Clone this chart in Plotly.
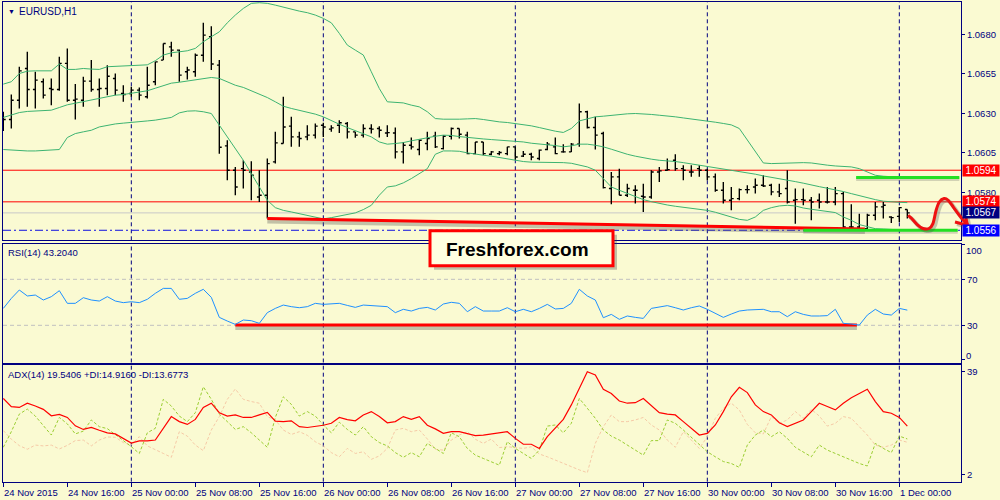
import plotly.graph_objects as go

W, H = 1000, 500
BG = "#FAFAD2"
NAVY = "#000080"
FONT = "Liberation Sans, Arial, sans-serif"

# ---------------- data ----------------
x_label_idx = [0, 8, 16, 24, 32, 40, 48, 56, 64, 72, 80, 88, 96, 104, 112]
x_label_text = ["24 Nov 2015", "24 Nov 16:00", "25 Nov 00:00", "25 Nov 08:00", "25 Nov 16:00",
                "26 Nov 00:00", "26 Nov 08:00", "26 Nov 16:00", "27 Nov 00:00", "27 Nov 08:00",
                "27 Nov 16:00", "30 Nov 00:00", "30 Nov 08:00", "30 Nov 16:00", "1 Dec 00:00"]
grid_idx = [16, 40, 64, 88, 112]

bar_open = [1.06278, 1.06261, 1.06383, 1.06584, 1.06451, 1.06500, 1.06457, 1.06451, 1.06616, 1.06383,
            1.06383, 1.06504, 1.06451, 1.06457, 1.06521, 1.06426, 1.06426, 1.06447, 1.06405, 1.06500,
            1.06637, 1.06721, 1.06700, 1.06563, 1.06563, 1.06668, 1.06785, 1.06605, 1.06094, 1.05940,
            1.05950, 1.05929, 1.05771, 1.05782, 1.05993, 1.06109, 1.06219, 1.06151, 1.06151, 1.06162,
            1.06225, 1.06200, 1.06225, 1.06236, 1.06183, 1.06162, 1.06204, 1.06204, 1.06176, 1.06176,
            1.06056, 1.06098, 1.06071, 1.06109, 1.06155, 1.06077, 1.06155, 1.06204, 1.06162, 1.06045,
            1.06119, 1.06041, 1.06045, 1.06045, 1.06088, 1.06029, 1.06041, 1.06014, 1.06071, 1.06088,
            1.06056, 1.06056, 1.06105, 1.06310, 1.06210, 1.06172, 1.05824, 1.05898, 1.05782, 1.05813,
            1.05775, 1.05771, 1.05929, 1.05940, 1.06003, 1.05950, 1.05929, 1.05950, 1.05940, 1.05898,
            1.05813, 1.05750, 1.05760, 1.05817, 1.05834, 1.05845, 1.05845, 1.05803, 1.05824, 1.05750,
            1.05754, 1.05750, 1.05750, 1.05739, 1.05739, 1.05792, 1.05581, 1.05581, 1.05570, 1.05655,
            1.05708, 1.05644, 1.05648, 1.05691]
bar_high = [1.06310, 1.06419, 1.06595, 1.06690, 1.06563, 1.06521, 1.06521, 1.06658, 1.06711, 1.06485,
            1.06531, 1.06637, 1.06521, 1.06605, 1.06552, 1.06478, 1.06468, 1.06464, 1.06595, 1.06626,
            1.06742, 1.06753, 1.06704, 1.06595, 1.06679, 1.06873, 1.06852, 1.06637, 1.06130, 1.05961,
            1.06003, 1.05997, 1.05940, 1.06014, 1.06183, 1.06405, 1.06278, 1.06183, 1.06225, 1.06236,
            1.06240, 1.06225, 1.06257, 1.06246, 1.06183, 1.06231, 1.06231, 1.06219, 1.06225, 1.06210,
            1.06119, 1.06147, 1.06134, 1.06183, 1.06183, 1.06162, 1.06210, 1.06204, 1.06183, 1.06119,
            1.06119, 1.06062, 1.06062, 1.06088, 1.06088, 1.06062, 1.06050, 1.06071, 1.06119, 1.06147,
            1.06105, 1.06113, 1.06362, 1.06316, 1.06278, 1.06183, 1.05929, 1.05950, 1.05855, 1.05845,
            1.05855, 1.05940, 1.05961, 1.06014, 1.06041, 1.05972, 1.05972, 1.05972, 1.05950, 1.05919,
            1.05866, 1.05834, 1.05824, 1.05845, 1.05887, 1.05908, 1.05855, 1.05855, 1.05940, 1.05824,
            1.05824, 1.05771, 1.05792, 1.05834, 1.05834, 1.05803, 1.05724, 1.05665, 1.05665, 1.05739,
            1.05739, 1.05648, 1.05708, 1.05691]
bar_low = [1.06189, 1.06204, 1.06331, 1.06341, 1.06331, 1.06394, 1.06352, 1.06443, 1.06373, 1.06261,
           1.06341, 1.06436, 1.06341, 1.06415, 1.06415, 1.06373, 1.06405, 1.06383, 1.06394, 1.06478,
           1.06637, 1.06658, 1.06500, 1.06514, 1.06531, 1.06626, 1.06574, 1.06045, 1.05876, 1.05782,
           1.05824, 1.05750, 1.05739, 1.05634, 1.05982, 1.06109, 1.06088, 1.06088, 1.06130, 1.06141,
           1.06151, 1.06183, 1.06176, 1.06141, 1.06145, 1.06147, 1.06172, 1.06147, 1.06151, 1.06014,
           1.05982, 1.06071, 1.06035, 1.06067, 1.06081, 1.06071, 1.06134, 1.06141, 1.06041, 1.06041,
           1.06035, 1.06035, 1.06035, 1.06035, 1.06007, 1.06024, 1.06003, 1.06003, 1.06067, 1.06041,
           1.06050, 1.06056, 1.06088, 1.06204, 1.06071, 1.05824, 1.05724, 1.05782, 1.05771, 1.05729,
           1.05676, 1.05760, 1.05866, 1.05936, 1.05936, 1.05876, 1.05898, 1.05898, 1.05876, 1.05803,
           1.05729, 1.05686, 1.05750, 1.05792, 1.05792, 1.05834, 1.05782, 1.05771, 1.05729, 1.05602,
           1.05718, 1.05623, 1.05697, 1.05729, 1.05718, 1.05560, 1.05564, 1.05564, 1.05564, 1.05623,
           1.05634, 1.05606, 1.05613, 1.05634]
bar_close = [1.06261, 1.06383, 1.06569, 1.06451, 1.06510, 1.06415, 1.06451, 1.06616, 1.06383, 1.06390,
             1.06504, 1.06451, 1.06457, 1.06535, 1.06447, 1.06419, 1.06447, 1.06415, 1.06478, 1.06626,
             1.06742, 1.06700, 1.06542, 1.06574, 1.06668, 1.06795, 1.06612, 1.06085, 1.05940, 1.05834,
             1.05940, 1.05908, 1.05782, 1.05982, 1.06113, 1.06214, 1.06151, 1.06141, 1.06162, 1.06219,
             1.06214, 1.06208, 1.06240, 1.06183, 1.06162, 1.06204, 1.06200, 1.06193, 1.06178, 1.06056,
             1.06098, 1.06088, 1.06130, 1.06141, 1.06088, 1.06155, 1.06204, 1.06168, 1.06045, 1.06119,
             1.06045, 1.06056, 1.06052, 1.06088, 1.06024, 1.06041, 1.06024, 1.06067, 1.06105, 1.06045,
             1.06056, 1.06105, 1.06310, 1.06210, 1.06162, 1.05830, 1.05898, 1.05782, 1.05824, 1.05813,
             1.05771, 1.05929, 1.05936, 1.05944, 1.05950, 1.05940, 1.05929, 1.05940, 1.05898, 1.05813,
             1.05750, 1.05760, 1.05817, 1.05817, 1.05845, 1.05840, 1.05803, 1.05792, 1.05739, 1.05754,
             1.05750, 1.05739, 1.05739, 1.05739, 1.05792, 1.05581, 1.05581, 1.05570, 1.05655, 1.05708,
             1.05718, 1.05640, 1.05703, 1.05670]

bb_upper = [1.06485, 1.06500, 1.06552, 1.06567, 1.06569, 1.06569, 1.06569, 1.06612, 1.06578, 1.06578,
            1.06584, 1.06580, 1.06578, 1.06595, 1.06597, 1.06597, 1.06599, 1.06601, 1.06607, 1.06633,
            1.06669, 1.06683, 1.06690, 1.06696, 1.06711, 1.06753, 1.06785, 1.06816, 1.06873, 1.06922,
            1.06964, 1.06996, 1.07000, 1.06996, 1.06985, 1.06971, 1.06958, 1.06947, 1.06937, 1.06922,
            1.06901, 1.06873, 1.06806, 1.06732, 1.06700, 1.06669, 1.06563, 1.06457, 1.06373, 1.06371,
            1.06366, 1.06352, 1.06341, 1.06310, 1.06267, 1.06263, 1.06261, 1.06263, 1.06265, 1.06267,
            1.06261, 1.06252, 1.06246, 1.06242, 1.06236, 1.06229, 1.06221, 1.06210, 1.06198, 1.06187,
            1.06179, 1.06204, 1.06252, 1.06267, 1.06278, 1.06282, 1.06288, 1.06293, 1.06297, 1.06299,
            1.06297, 1.06293, 1.06288, 1.06284, 1.06278, 1.06271, 1.06265, 1.06259, 1.06252, 1.06244,
            1.06236, 1.06227, 1.06204, 1.06130, 1.06056, 1.05986, 1.05982, 1.05984, 1.05986, 1.05988,
            1.05988, 1.05986, 1.05978, 1.05972, 1.05967, 1.05965, 1.05961, 1.05950, 1.05929, 1.05908,
            1.05902, 1.05898, 1.05896, 1.05893]
bb_mid = [1.06274, 1.06288, 1.06305, 1.06312, 1.06314, 1.06318, 1.06320, 1.06337, 1.06354, 1.06364,
          1.06375, 1.06383, 1.06396, 1.06405, 1.06415, 1.06419, 1.06426, 1.06432, 1.06443, 1.06459,
          1.06476, 1.06491, 1.06497, 1.06504, 1.06510, 1.06519, 1.06527, 1.06521, 1.06500, 1.06478,
          1.06464, 1.06443, 1.06419, 1.06400, 1.06373, 1.06345, 1.06331, 1.06320, 1.06305, 1.06295,
          1.06278, 1.06252, 1.06231, 1.06210, 1.06189, 1.06172, 1.06151, 1.06119, 1.06105, 1.06109,
          1.06115, 1.06126, 1.06136, 1.06147, 1.06155, 1.06162, 1.06160, 1.06153, 1.06147, 1.06143,
          1.06138, 1.06134, 1.06130, 1.06128, 1.06126, 1.06119, 1.06111, 1.06107, 1.06102, 1.06096,
          1.06088, 1.06094, 1.06105, 1.06105, 1.06098, 1.06088, 1.06073, 1.06056, 1.06041, 1.06029,
          1.06018, 1.06010, 1.06003, 1.06001, 1.05995, 1.05988, 1.05980, 1.05974, 1.05967, 1.05959,
          1.05950, 1.05940, 1.05931, 1.05923, 1.05915, 1.05904, 1.05896, 1.05887, 1.05879, 1.05868,
          1.05858, 1.05849, 1.05836, 1.05826, 1.05817, 1.05805, 1.05792, 1.05779, 1.05765, 1.05754,
          1.05744, 1.05739, 1.05737, 1.05735]
bb_lower = [1.06071, 1.06067, 1.06062, 1.06062, 1.06062, 1.06065, 1.06067, 1.06071, 1.06147, 1.06172,
            1.06183, 1.06193, 1.06214, 1.06225, 1.06233, 1.06238, 1.06244, 1.06248, 1.06252, 1.06257,
            1.06265, 1.06274, 1.06303, 1.06314, 1.06316, 1.06310, 1.06299, 1.06225, 1.06147, 1.06077,
            1.06003, 1.05919, 1.05834, 1.05750, 1.05703, 1.05686, 1.05676, 1.05665, 1.05653, 1.05640,
            1.05632, 1.05640, 1.05651, 1.05661, 1.05670, 1.05691, 1.05718, 1.05782, 1.05834, 1.05841,
            1.05860, 1.05887, 1.05919, 1.05950, 1.06041, 1.06062, 1.06062, 1.06060, 1.06050, 1.06041,
            1.06035, 1.06029, 1.06020, 1.06012, 1.06003, 1.05995, 1.05991, 1.05991, 1.05988, 1.05988,
            1.05988, 1.05984, 1.05972, 1.05961, 1.05940, 1.05887, 1.05834, 1.05813, 1.05792, 1.05771,
            1.05754, 1.05741, 1.05729, 1.05720, 1.05712, 1.05705, 1.05699, 1.05693, 1.05686, 1.05674,
            1.05659, 1.05644, 1.05629, 1.05623, 1.05644, 1.05686, 1.05703, 1.05714, 1.05718, 1.05714,
            1.05701, 1.05693, 1.05686, 1.05678, 1.05672, 1.05644, 1.05623, 1.05596, 1.05581, 1.05570,
            1.05568, 1.05566, 1.05564, 1.05560]

rsi = [44.7, 53.4, 60.7, 55.5, 56.3, 52.0, 54.9, 60.1, 49.1, 49.1,
       54.0, 52.0, 51.1, 54.9, 51.1, 49.7, 50.5, 49.7, 52.6, 57.8,
       62.1, 62.1, 52.6, 53.4, 57.8, 61.3, 54.3, 36.9, 33.7, 30.8,
       34.6, 34.0, 31.7, 41.0, 44.7, 47.6, 46.2, 45.3, 46.2, 49.1,
       48.2, 48.5, 49.1, 47.3, 45.6, 47.6, 47.1, 46.8, 46.2, 41.0,
       43.9, 42.4, 44.7, 45.6, 43.3, 48.5, 50.0, 49.1, 41.8, 46.2,
       42.4, 42.4, 42.4, 45.3, 41.8, 43.9, 41.8, 44.7, 48.2, 44.2,
       44.7, 49.1, 61.3, 55.5, 52.0, 36.6, 39.5, 35.2, 38.1, 36.9,
       36.0, 44.7, 46.2, 47.1, 45.3, 43.3, 45.3, 46.8, 43.9, 40.4,
       36.9, 39.8, 42.4, 43.3, 43.9, 43.9, 41.8, 41.8, 37.5, 41.8,
       39.5, 38.1, 38.1, 38.4, 43.9, 31.7, 31.1, 30.2, 38.9, 43.9,
       39.8, 38.9, 44.7, 43.2]

adx = [29.4, 26.5, 26.2, 27.7, 26.7, 25.5, 23.2, 23.7, 22.6, 19.6,
       18.3, 19.0, 18.0, 17.1, 16.7, 15.1, 13.4, 14.2, 14.2, 14.5,
       18.7, 22.9, 21.1, 20.1, 21.9, 26.2, 27.7, 24.3, 23.1, 23.5,
       22.6, 22.6, 23.5, 24.4, 21.3, 21.1, 21.4, 19.3, 19.0, 19.4,
       19.8, 20.5, 22.6, 21.8, 21.4, 23.5, 24.7, 22.9, 20.7, 21.1,
       22.9, 21.9, 22.9, 19.8, 18.5, 16.9, 17.5, 17.5, 16.9, 16.1,
       16.3, 16.7, 16.9, 17.5, 15.1, 13.0, 13.0, 11.5, 15.7, 18.9,
       21.9, 27.1, 33.0, 39.0, 37.8, 32.7, 31.2, 28.5, 27.7, 27.9,
       29.4, 26.7, 24.3, 23.8, 23.5, 21.1, 18.7, 16.3, 16.9, 19.9,
       24.7, 30.0, 33.4, 31.5, 27.1, 24.7, 23.5, 20.7, 19.3, 20.5,
       21.7, 24.7, 27.7, 26.5, 25.3, 27.7, 29.7, 31.2, 32.7, 28.3,
       24.7, 24.1, 22.6, 19.5]
plus_di = [11.9, 17.5, 23.8, 25.6, 23.1, 19.9, 16.3, 22.6, 20.3, 16.7,
           17.7, 21.7, 19.3, 18.6, 16.3, 14.3, 12.1, 9.7, 17.1, 18.7,
           29.1, 26.7, 23.1, 21.1, 24.3, 33.6, 29.1, 23.8, 21.1, 18.3,
           19.3, 17.1, 14.5, 11.9, 22.6, 30.0, 27.3, 23.1, 24.7, 23.1,
           19.9, 17.1, 20.9, 18.3, 16.3, 19.3, 15.7, 13.6, 12.4, 10.0,
           8.3, 10.0, 8.5, 13.3, 11.5, 9.7, 17.1, 15.7, 11.5, 9.1,
           7.9, 6.6, 5.5, 13.9, 11.5, 9.7, 7.9, 10.9, 19.5, 19.9,
           17.1, 20.5, 29.4, 25.9, 22.3, 18.1, 15.9, 14.5, 12.7, 10.9,
           9.1, 14.3, 14.3, 21.7, 20.5, 18.1, 15.5, 13.1, 10.3, 8.5,
           6.8, 6.1, 4.7, 12.7, 16.3, 18.1, 15.7, 17.5, 15.1, 11.9,
           10.3, 8.5, 12.7, 10.9, 9.7, 8.5, 7.3, 6.1, 5.2, 13.3,
           11.5, 10.0, 15.9, 14.9]
minus_di = [17.9, 14.8, 12.5, 11.2, 12.7, 12.4, 12.7, 11.3, 12.6, 14.3,
            14.5, 12.4, 14.5, 15.6, 15.5, 13.6, 12.7, 15.7, 12.4, 10.9,
            9.7, 8.3, 17.5, 15.9, 12.7, 10.7, 18.1, 22.9, 29.1, 32.8,
            29.1, 28.3, 27.7, 22.9, 21.7, 18.1, 16.5, 17.5, 16.2, 13.9,
            12.4, 10.0, 8.5, 11.5, 9.7, 10.3, 7.6, 8.8, 11.5, 18.1,
            18.7, 17.5, 18.1, 14.9, 11.2, 10.9, 14.5, 16.3, 17.5, 14.8,
            13.3, 14.9, 11.8, 12.1, 11.9, 11.5, 12.1, 9.5, 8.5, 7.3,
            6.1, 4.9, 3.8, 2.8, 13.3, 19.3, 23.5, 21.1, 21.1, 21.7,
            22.6, 19.9, 18.1, 14.5, 11.9, 17.5, 14.5, 11.5, 15.7, 22.3,
            25.9, 27.7, 25.3, 20.1, 17.1, 16.7, 22.9, 20.5, 21.7, 24.7,
            22.3, 25.5, 23.1, 19.5, 20.5, 22.9, 22.3, 19.3, 16.3, 12.7,
            11.9, 12.7, 14.5, 13.7]

price_ticks = [1.0680, 1.0655, 1.0630, 1.0605, 1.0580]
red_levels = [1.0594, 1.0574]
bid_price = 1.0567
low_level = 1.0556
rsi_levels = [70, 30]
rsi_ticks = [100, 70, 30, 0]
adx_ticks = [39, 2]

support_x = [33, 107.7]
support_y = [1.05634, 1.05568]
rsi_support_x = [29, 106.7]
rsi_support_y = [30.3, 30.3]
green_top_x = [106.6, 119.5]
green_top_y = [1.05894, 1.05894]
green_bot_x = [100.0, 119.3]
green_bot_y = [1.0556, 1.0556]
forecast_x = [113.1, 113.55, 114.3, 114.96, 115.7, 116.2, 116.6, 117.0, 117.6, 118.1, 118.75, 119.5, 120.2, 120.6]
forecast_y = [1.05655, 1.05634, 1.05592, 1.05571, 1.05571, 1.05602, 1.05687, 1.05739, 1.05761, 1.05750,
              1.05707, 1.05655, 1.05612, 1.05591]
arrow1_x = [118.96, 120.5]
arrow1_y = [1.05612, 1.05592]
arrow2_x = [120.3, 120.5]
arrow2_y = [1.05648, 1.05592]

bars = list(range(len(bar_open)))

# ---------------- geometry ----------------
X_PX = (3, 961)
MAIN_PX = (2, 240.3)
RSI_PX = (244, 362.5)
ADX_PX = (365, 481.7)
X_RANGE = [-0.04, 119.71]
MAIN_RANGE = [1.054965, 1.070047]
RSI_RANGE = [-2.35, 100.7]
ADX_RANGE = [-0.43, 41.4]


def xdom():
    return [X_PX[0] / W, X_PX[1] / W]


def ydom(p):
    return [1 - p[1] / H, 1 - p[0] / H]


def px_x(v):
    return X_PX[0] + (v - X_RANGE[0]) / (X_RANGE[1] - X_RANGE[0]) * (X_PX[1] - X_PX[0])


def px_y(v):
    return MAIN_PX[1] - (v - MAIN_RANGE[0]) / (MAIN_RANGE[1] - MAIN_RANGE[0]) * (MAIN_PX[1] - MAIN_PX[0])


def pap(x, y):
    return x / W, 1 - y / H


def smooth_path(xs, ys, dx=0.0, dy=0.0):
    pts = [(px_x(a) + dx, px_y(b) + dy) for a, b in zip(xs, ys)]
    s = "M %.5f,%.5f" % pap(*pts[0])
    for k in range(len(pts) - 1):
        p0 = pts[k - 1] if k > 0 else pts[k]
        p1 = pts[k]
        p2 = pts[k + 1]
        p3 = pts[k + 2] if k + 2 < len(pts) else pts[k + 1]
        c1 = (p1[0] + (p2[0] - p0[0]) / 6, p1[1] + (p2[1] - p0[1]) / 6)
        c2 = (p2[0] - (p3[0] - p1[0]) / 6, p2[1] - (p3[1] - p1[1]) / 6)
        s += " C %.5f,%.5f %.5f,%.5f %.5f,%.5f" % (pap(*c1) + pap(*c2) + pap(*p2))
    return s


def line_path(xs, ys, dx=0.0, dy=0.0):
    pts = [pap(px_x(a) + dx, px_y(b) + dy) for a, b in zip(xs, ys)]
    return "M " + " L ".join("%.5f,%.5f" % p for p in pts)


main_shadow = 2.5 * (MAIN_RANGE[1] - MAIN_RANGE[0]) / (MAIN_PX[1] - MAIN_PX[0])
rsi_shadow = 2.5 * (RSI_RANGE[1] - RSI_RANGE[0]) / (RSI_PX[1] - RSI_PX[0])

fig = go.Figure()

# Bollinger bands
for band in (bb_upper, bb_mid, bb_lower):
    fig.add_trace(go.Scatter(x=bars, y=band, mode="lines", line=dict(color="#3CB371", width=1),
                             hoverinfo="skip", showlegend=False, xaxis="x", yaxis="y"))

# OHLC bars
fig.add_trace(go.Ohlc(x=bars, open=bar_open, high=bar_high, low=bar_low, close=bar_close,
                      increasing=dict(line=dict(color="black", width=1.4)),
                      decreasing=dict(line=dict(color="black", width=1.4)),
                      tickwidth=0.3, hoverinfo="skip", showlegend=False, xaxis="x", yaxis="y"))

# support trend line with shadow
fig.add_trace(go.Scatter(x=support_x, y=[v - main_shadow for v in support_y], mode="lines",
                         line=dict(color="rgba(90,90,90,0.35)", width=5), hoverinfo="skip",
                         showlegend=False, xaxis="x", yaxis="y"))
fig.add_trace(go.Scatter(x=support_x, y=support_y, mode="lines", line=dict(color="#FF0000", width=3),
                         hoverinfo="skip", showlegend=False, xaxis="x", yaxis="y"))
# green lines
for gx, gy in ((green_top_x, green_top_y), (green_bot_x, green_bot_y)):
    fig.add_trace(go.Scatter(x=gx, y=[v - main_shadow * 0.6 for v in gy], mode="lines",
                             line=dict(color="rgba(90,90,90,0.25)", width=4), hoverinfo="skip",
                             showlegend=False, xaxis="x", yaxis="y"))
    fig.add_trace(go.Scatter(x=gx, y=gy, mode="lines", line=dict(color="#22E022", width=3),
                             hoverinfo="skip", showlegend=False, xaxis="x", yaxis="y"))

# RSI
fig.add_trace(go.Scatter(x=rsi_support_x, y=[v - rsi_shadow for v in rsi_support_y], mode="lines",
                         line=dict(color="rgba(90,90,90,0.35)", width=5), hoverinfo="skip",
                         showlegend=False, xaxis="x2", yaxis="y2"))
fig.add_trace(go.Scatter(x=rsi_support_x, y=rsi_support_y, mode="lines",
                         line=dict(color="#FF0000", width=3), hoverinfo="skip",
                         showlegend=False, xaxis="x2", yaxis="y2"))
fig.add_trace(go.Scatter(x=bars, y=rsi, mode="lines", line=dict(color="#1E90FF", width=1),
                         hoverinfo="skip", showlegend=False, xaxis="x2", yaxis="y2"))

# ADX
fig.add_trace(go.Scatter(x=bars, y=minus_di, mode="lines",
                         line=dict(color="#F5C9A6", width=1, dash="3px,2px"),
                         hoverinfo="skip", showlegend=False, xaxis="x3", yaxis="y3"))
fig.add_trace(go.Scatter(x=bars, y=plus_di, mode="lines",
                         line=dict(color="#9ACD32", width=1, dash="3px,2px"),
                         hoverinfo="skip", showlegend=False, xaxis="x3", yaxis="y3"))
fig.add_trace(go.Scatter(x=bars, y=adx, mode="lines", line=dict(color="#FF0000", width=1.2),
                         hoverinfo="skip", showlegend=False, xaxis="x3", yaxis="y3"))

shapes = []
# vertical dashed separators
for ya in ("y", "y2", "y3"):
    xa = {"y": "x", "y2": "x2", "y3": "x3"}[ya]
    for g in grid_idx:
        shapes.append(dict(type="line", xref=xa, yref=ya + " domain", x0=g, x1=g, y0=0, y1=1,
                           line=dict(color=NAVY, width=1, dash="4px,3px"), layer="below"))
# main panel levels
for lv in red_levels:
    shapes.append(dict(type="line", xref="x domain", yref="y", x0=0, x1=1, y0=lv, y1=lv,
                       line=dict(color="#FF0000", width=1), layer="below"))
shapes.append(dict(type="line", xref="x domain", yref="y", x0=0, x1=1, y0=bid_price, y1=bid_price,
                   line=dict(color="#C8C8C8", width=1), layer="below"))
shapes.append(dict(type="line", xref="x domain", yref="y", x0=0, x1=1, y0=low_level, y1=low_level,
                   line=dict(color="#1010E0", width=1, dash="8px,3px,2px,3px"), layer="below"))
# RSI levels
for lv in rsi_levels:
    shapes.append(dict(type="line", xref="x2 domain", yref="y2", x0=0, x1=1, y0=lv, y1=lv,
                       line=dict(color="#C0C0C0", width=1, dash="4px,3px"), layer="below"))

# forecast curve (hand drawn) with shadow
shapes.append(dict(type="path", xref="paper", yref="paper",
                   path=smooth_path(forecast_x, forecast_y, 2, 2),
                   line=dict(color="rgba(80,80,80,0.3)", width=4), layer="above"))
for ax_, ay_ in ((arrow1_x, arrow1_y), (arrow2_x, arrow2_y)):
    shapes.append(dict(type="path", xref="paper", yref="paper", path=line_path(ax_, ay_, 2, 2),
                       line=dict(color="rgba(80,80,80,0.3)", width=4), layer="above"))
shapes.append(dict(type="path", xref="paper", yref="paper",
                   path=smooth_path(forecast_x, forecast_y),
                   line=dict(color="#EE1111", width=3), layer="above"))
for ax_, ay_ in ((arrow1_x, arrow1_y), (arrow2_x, arrow2_y)):
    shapes.append(dict(type="path", xref="paper", yref="paper", path=line_path(ax_, ay_),
                       line=dict(color="#EE1111", width=3), layer="above"))

# Freshforex box with shadow
bx0, bx1, by0, by1 = 430, 613, 230.7, 265.7
shapes.append(dict(type="rect", xref="paper", yref="paper",
                   x0=(bx0 + 4) / W, x1=(bx1 + 4) / W, y0=1 - (by1 + 4) / H, y1=1 - (by0 + 4) / H,
                   fillcolor="rgba(60,60,60,0.3)", line=dict(width=0), layer="above"))
shapes.append(dict(type="rect", xref="paper", yref="paper",
                   x0=bx0 / W, x1=bx1 / W, y0=1 - by1 / H, y1=1 - by0 / H,
                   fillcolor="#FFFFE0", line=dict(color="#FF0000", width=3), layer="above"))

annotations = []
# x labels
for idx, txt in zip(x_label_idx, x_label_text):
    annotations.append(dict(x=idx, xref="x3", y=1 - 492 / H, yref="paper", text=txt, showarrow=False,
                            xanchor="left", yanchor="middle", xshift=-1,
                            font=dict(family=FONT, size=9.5, color=NAVY)))
# indicator titles
annotations.append(dict(x=6 / W, y=1 - 11 / H, xref="paper", yref="paper", text="▼", showarrow=False,
                        xanchor="left", yanchor="middle", font=dict(family=FONT, size=7, color=NAVY)))
annotations.append(dict(x=17 / W, y=1 - 11 / H, xref="paper", yref="paper", text="EURUSD,H1",
                        showarrow=False, xanchor="left", yanchor="middle",
                        font=dict(family=FONT, size=10, color=NAVY)))
annotations.append(dict(x=6 / W, y=1 - 252.5 / H, xref="paper", yref="paper", text="RSI(14) 43.2040",
                        showarrow=False, xanchor="left", yanchor="middle",
                        font=dict(family=FONT, size=9.5, color=NAVY)))
annotations.append(dict(x=6 / W, y=1 - 374 / H, xref="paper", yref="paper",
                        text="ADX(14) 19.5406 +DI:14.9160 -DI:13.6773",
                        showarrow=False, xanchor="left", yanchor="middle",
                        font=dict(family=FONT, size=9.5, color=NAVY)))
# RSI extreme labels (drawn inside the panel edges as in the terminal)
annotations.append(dict(x=964 / W, xref="paper", y=100, yref="y2", yshift=-5.5, text="100",
                        showarrow=False, xanchor="left", yanchor="middle",
                        font=dict(family=FONT, size=9.5, color=NAVY)))
annotations.append(dict(x=964 / W, xref="paper", y=0, yref="y2", yshift=4.5, text="0",
                        showarrow=False, xanchor="left", yanchor="middle",
                        font=dict(family=FONT, size=9.5, color=NAVY)))
# price tags on the right
tags = [(red_levels[0], "#FF0000"), (red_levels[1], "#FF0000"), (bid_price, "#000080"), (low_level, "#0000FF")]
for val, col in tags:
    annotations.append(dict(x=962 / W, xref="paper", y=val, yref="y", text="%.4f" % val,
                            showarrow=False, xanchor="left", yanchor="middle", bgcolor=col,
                            width=36, height=11, borderpad=0, align="center",
                            font=dict(family=FONT, size=10, color="white")))
# Freshforex text
annotations.append(dict(x=517 / W, y=1 - 249 / H, xref="paper", yref="paper", text="<b>Freshforex.com</b>",
                        showarrow=False, xanchor="center", yanchor="middle",
                        font=dict(family=FONT, size=19, color="black")))

axis_common = dict(showline=True, mirror=True, linecolor=NAVY, linewidth=1, showgrid=False,
                   zeroline=False, fixedrange=True)

fig.update_layout(
    width=W, height=H, margin=dict(l=0, r=0, t=0, b=0),
    paper_bgcolor=BG, plot_bgcolor=BG, showlegend=False,
    font=dict(family=FONT, size=10, color=NAVY),
    xaxis=dict(domain=xdom(), range=X_RANGE, anchor="y", showticklabels=False, ticks="",
               rangeslider=dict(visible=False), **axis_common),
    xaxis2=dict(domain=xdom(), range=X_RANGE, anchor="y2", showticklabels=False, ticks="",
                matches="x", **axis_common),
    xaxis3=dict(domain=xdom(), range=X_RANGE, anchor="y3", showticklabels=False, ticks="outside",
                tickvals=x_label_idx, ticklen=4, tickcolor=NAVY, matches="x", **axis_common),
    yaxis=dict(domain=ydom(MAIN_PX), range=MAIN_RANGE, anchor="x", side="right",
               tickvals=price_ticks, ticktext=["%.4f" % v for v in price_ticks],
               ticks="outside", ticklen=3, tickcolor=NAVY,
               tickfont=dict(family=FONT, size=9.5, color=NAVY), **axis_common),
    yaxis2=dict(domain=ydom(RSI_PX), range=RSI_RANGE, anchor="x2", side="right",
                tickvals=rsi_ticks, ticktext=["", "70", "30", ""],
                ticks="outside", ticklen=3, tickcolor=NAVY,
                tickfont=dict(family=FONT, size=9.5, color=NAVY), **axis_common),
    yaxis3=dict(domain=ydom(ADX_PX), range=ADX_RANGE, anchor="x3", side="right",
                tickvals=adx_ticks, ticktext=[str(v) for v in adx_ticks],
                ticks="outside", ticklen=3, tickcolor=NAVY,
                tickfont=dict(family=FONT, size=9.5, color=NAVY), **axis_common),
    shapes=shapes, annotations=annotations,
)

fig.write_html("out.html", config={"displayModeBar": False},
               post_script="document.body.style.margin='0px';document.body.style.overflow='hidden';")
